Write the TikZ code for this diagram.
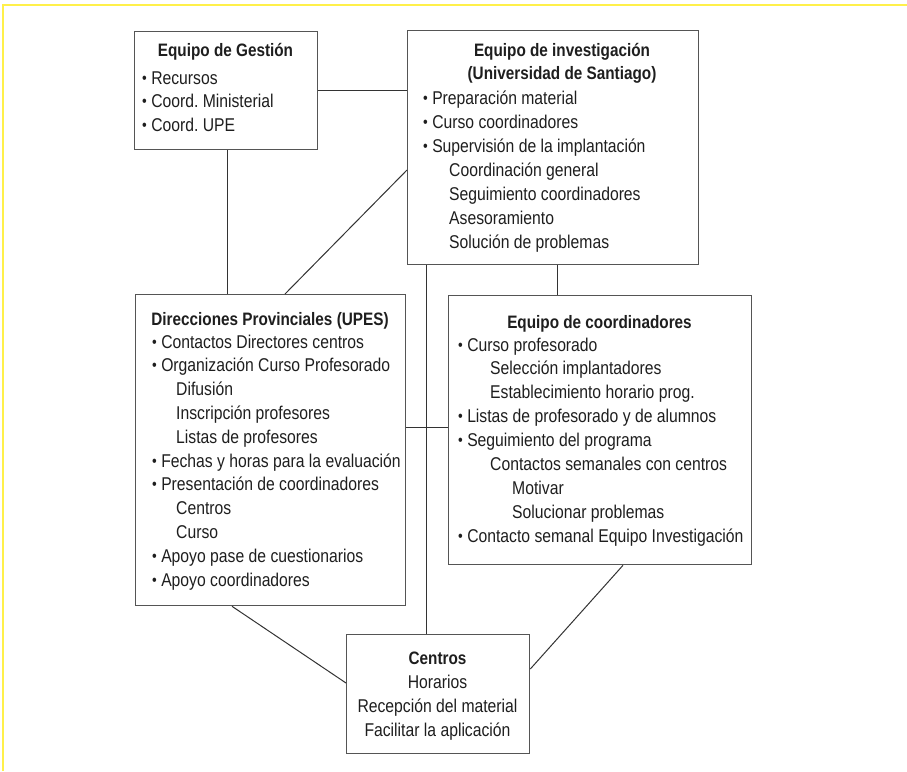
\documentclass[tikz,border=0pt]{standalone}
\usepackage{fontspec}
\usepackage{graphicx}
\setmainfont{Liberation Sans}[FakeStretch=0.85]
\usetikzlibrary{calc}
\frenchspacing
\definecolor{txtc}{HTML}{1E1E1E}
\definecolor{boxc}{HTML}{555555}
\definecolor{linec}{HTML}{333333}
\definecolor{framec}{HTML}{FFF04A}
\newcommand{\bul}{\raisebox{0.1ex}{\scalebox{0.85}{•}}\ }
\tikzset{
  box/.style={draw=boxc, line width=1.3pt, inner sep=0pt, anchor=north west},
  itm/.style={anchor=base west, inner sep=0pt, text=txtc, font=\fontsize{18.5}{22}\selectfont},
  ttl/.style={anchor=base, inner sep=0pt, text=txtc, font=\fontsize{18}{22}\selectfont\bfseries},
  ctr/.style={anchor=base, inner sep=0pt, text=txtc, font=\fontsize{18.5}{22}\selectfont},
  conn/.style={draw=linec, line width=1pt},
}
\begin{document}
\begin{tikzpicture}[x=1pt,y=-1pt]
\useasboundingbox (0,0) rectangle (907,771);
\draw[draw=framec, line width=2pt] (3,771) -- (3,5) -- (907,5);

% boxes
\node[box, minimum width=183pt, minimum height=118pt] (gest) at (134,31) {};
\node[box, minimum width=291pt, minimum height=234pt] (inv) at (407,30) {};
\node[box, minimum width=270pt, minimum height=311pt] (dir) at (135,294) {};
\node[box, minimum width=303pt, minimum height=269pt] (coord) at (448,295) {};
\node[box, minimum width=183pt, minimum height=119pt] (cent) at (346,634) {};

% Equipo de Gestion
\node[ttl] (gt) at (225.5,56) {Equipo de Gestión};
\foreach \xx/\lbl [count=\k] in {142/{\bul Recursos},142/{\bul Coord. Ministerial},142/{\bul Coord. UPE}}
  \node[itm] (g\k) at (\xx,{84+23.7*(\k-1)}) {\lbl};

% Equipo de investigacion
\node[ttl] (it1) at (562,56) {Equipo de investigación};
\node[ttl] (it2) at (562,79) {(Universidad de Santiago)};
\foreach \xx/\lbl [count=\k] in {423/{\bul Preparación material},423/{\bul Curso coordinadores},423/{\bul Supervisión de la implantación},449/{Coordinación general},449/{Seguimiento coordinadores},449/{Asesoramiento},449/{Solución de problemas}}
  \node[itm] (i\k) at (\xx,{104+24*(\k-1)}) {\lbl};

% Direcciones Provinciales
\node[ttl] (dt) at (270,325) {Direcciones Provinciales (UPES)};
\foreach \xx/\lbl [count=\k] in {152/{\bul Contactos Directores centros},152/{\bul Organización Curso Profesorado},176/{Difusión},176/{Inscripción profesores},176/{Listas de profesores},152/{\bul Fechas y horas para la evaluación},152/{\bul Presentación de coordinadores},176/{Centros},176/{Curso},152/{\bul Apoyo pase de cuestionarios},152/{\bul Apoyo coordinadores}}
  \node[itm] (d\k) at (\xx,{348+23.8*(\k-1)}) {\lbl};

% Equipo de coordinadores
\node[ttl] (ct) at (599.5,328) {Equipo de coordinadores};
\foreach \xx/\lbl [count=\k] in {458/{\bul Curso profesorado},490/{Selección implantadores},490/{Establecimiento horario prog.},458/{\bul Listas de profesorado y de alumnos},458/{\bul Seguimiento del programa},490/{Contactos semanales con centros},512/{Motivar},512/{Solucionar problemas},458/{\bul Contacto semanal Equipo Investigación}}
  \node[itm] (c\k) at (\xx,{351+23.9*(\k-1)}) {\lbl};

% Centros
\node[ttl] (et) at (437.5,664) {Centros};
\node[ctr] (e1) at (437.5,688) {Horarios};
\node[ctr] (e2) at (437.5,712) {Recepción del material};
\node[ctr] (e3) at (437.5,736) {Facilitar la aplicación};

% connectors
\draw[conn] (gest.east) -- (gest.east -| inv.west);
\draw[conn] ([xshift=1.5pt]gest.south) -- ([xshift=1.5pt]gest.south |- dir.north);
\coordinate (p1) at ($(inv.north west)+(0,140)$);
\coordinate (p2) at ($(dir.north west)+(150,0)$);
\draw[conn] (p1) -- (p2);
\coordinate (p3) at ($(inv.south west)+(19,0)$);
\draw[conn] (p3) -- (p3 |- cent.north);
\coordinate (p4) at ($(inv.south west)+(150,0)$);
\draw[conn] (p4) -- (p4 |- coord.north);
\coordinate (p5) at ($(dir.north east)+(0,133)$);
\draw[conn] (p5) -- (p5 -| coord.west);
\coordinate (p6) at ($(dir.south west)+(97,0)$);
\coordinate (p7) at ($(cent.north west)+(0,49)$);
\draw[conn] (p6) -- (p7);
\coordinate (p8) at ($(coord.south west)+(175,0)$);
\coordinate (p9) at ($(cent.north east)+(0,35)$);
\draw[conn] (p8) -- (p9);
\end{tikzpicture}
\end{document}
